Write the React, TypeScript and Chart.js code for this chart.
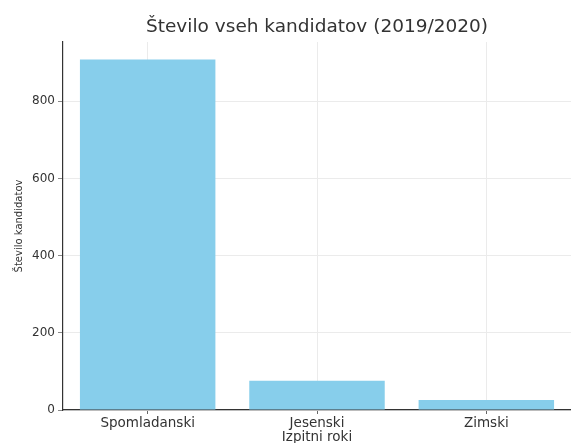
import React, { useEffect, useRef } from "react";
import { Chart, registerables } from "chart.js";

Chart.register(...registerables);

const categories = ["Spomladanski", "Jesenski", "Zimski"];
const candidates = [908, 76, 26];
const yTickStep = 200;
const titleText = "Število vseh kandidatov (2019/2020)";
const xAxisTitle = "Izpitni roki";
const yAxisTitle = "Število kandidatov";

const FONT = "'DejaVu Sans', sans-serif";

export default function App() {
  const ref = useRef<HTMLCanvasElement | null>(null);

  useEffect(() => {
    if (!ref.current) return;
    const yMax = Math.max(...candidates) * 1.05;
    const chart = new Chart(ref.current, {
      type: "bar",
      data: {
        labels: categories,
        datasets: [
          {
            data: candidates,
            backgroundColor: "#87CEEB",
            borderWidth: 0,
            barPercentage: 0.8,
            categoryPercentage: 1.0,
          },
        ],
      },
      options: {
        responsive: false,
        animation: false,
        layout: { padding: 0 },
        plugins: {
          legend: { display: false },
          tooltip: { enabled: false },
          title: { display: false },
        },
        scales: {
          x: {
            grid: {
              display: true,
              offset: false,
              color: "#ebebeb",
              tickColor: "#666",
              tickLength: 4,
              drawTicks: true,
            },
            border: { display: true, color: "#333", width: 1.2 },
            ticks: {
              color: "#333",
              padding: 1,
              font: { family: FONT, size: 13.5 },
            },
            title: {
              display: true,
              text: xAxisTitle,
              color: "#333",
              font: { family: FONT, size: 13.5 },
              padding: { top: 0, bottom: 0 },
            },
            afterFit: (scale: any) => {
              scale.height = 36;
            },
          },
          x2: {
            type: "category",
            position: "top",
            labels: categories,
            grid: { display: false, drawTicks: false },
            border: { display: false },
            ticks: { display: false },
            title: {
              display: true,
              text: titleText,
              color: "#333",
              font: { family: FONT, size: 18.5 },
              padding: { top: 16, bottom: 0 },
            },
            afterFit: (scale: any) => {
              scale.height = 42;
            },
          },
          y: {
            min: 0,
            max: yMax,
            grid: {
              color: "#ebebeb",
              tickColor: "#888",
              tickLength: 5,
            },
            border: { display: true, color: "#333", width: 1.2 },
            ticks: {
              stepSize: yTickStep,
              color: "#333",
              padding: 3,
              font: { family: FONT, size: 12 },
            },
            afterBuildTicks: (scale: any) => {
              scale.ticks = scale.ticks.filter((t: any) => t.value % yTickStep === 0);
            },
            title: {
              display: true,
              text: yAxisTitle,
              color: "#333",
              font: { family: FONT, size: 10 },
              padding: { top: 13, bottom: 0 },
            },
            afterFit: (scale: any) => {
              scale.width = 63;
            },
          },
        },
      },
    });
    return () => chart.destroy();
  }, []);

  return (
    <div
      style={{
        position: "fixed",
        left: 0,
        top: 0,
        width: 571,
        height: 443,
        overflow: "hidden",
        background: "#fff",
      }}
    >
      <canvas ref={ref} width={571} height={446} style={{ display: "block" }} />
    </div>
  );
}
